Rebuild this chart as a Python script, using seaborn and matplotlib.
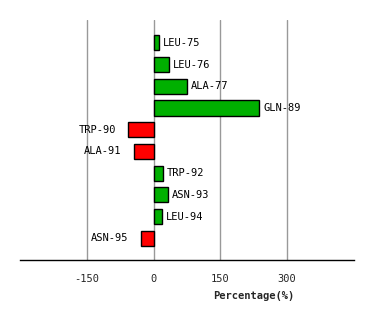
import matplotlib
matplotlib.use("Agg")
import matplotlib.pyplot as plt
import seaborn as sns
import pandas as pd

residues = ["LEU-75", "LEU-76", "ALA-77", "GLN-89", "TRP-90",
            "ALA-91", "TRP-92", "ASN-93", "LEU-94", "ASN-95"]
percentages = [12, 34, 75, 237, -58, -45, 21, 32, 19, -29]
xticks = [-150, 0, 150, 300]

green = "#00b000"
red = "#ff0000"
colors = [green if v >= 0 else red for v in percentages]

df = pd.DataFrame({"residue": residues, "pct": percentages})

sns.set_style("white")
plt.rcParams["font.family"] = ["DejaVu Sans Mono", "DejaVu Sans"]

fig = plt.figure(figsize=(3.74, 3.2), dpi=100)
ax = fig.add_axes([20 / 374, 60 / 320, 334 / 374, 240 / 320])

sns.barplot(data=df, x="pct", y="residue", hue="residue", palette=colors,
            legend=False, orient="h", width=0.7, edgecolor="black",
            linewidth=1, saturation=1, ax=ax, zorder=3)

ax.set_xlim(-300, 450)
ax.set_ylim(10.0, -1.05)
ax.set_xticks(xticks)
ax.set_xticklabels([str(t) for t in xticks], fontsize=7.5)
ax.set_yticks([])
ax.set_ylabel("")
for t in xticks:
    ax.axvline(t, color="#999999", linewidth=1, zorder=1)

for s in ["left", "right", "top"]:
    ax.spines[s].set_visible(False)
ax.spines["bottom"].set_color("black")
ax.spines["bottom"].set_linewidth(1)
ax.tick_params(axis="x", length=0, pad=10)

for i, (name, v) in enumerate(zip(residues, percentages)):
    if v >= 0:
        ax.annotate(name, (v, i), xytext=(4, 0), textcoords="offset pixels",
                    ha="left", va="center", fontsize=7.5, color="black")
    else:
        ax.annotate(name, (v, i), xytext=(-12, 0), textcoords="offset pixels",
                    ha="right", va="center", fontsize=7.5, color="black")

ax.set_xlabel("Percentage(%)", fontsize=7.5, fontweight="bold")
ax.xaxis.set_label_coords(0.70, -0.128)
ax.xaxis.label.set_va("top")

fig.savefig("out.png", dpi=100)
